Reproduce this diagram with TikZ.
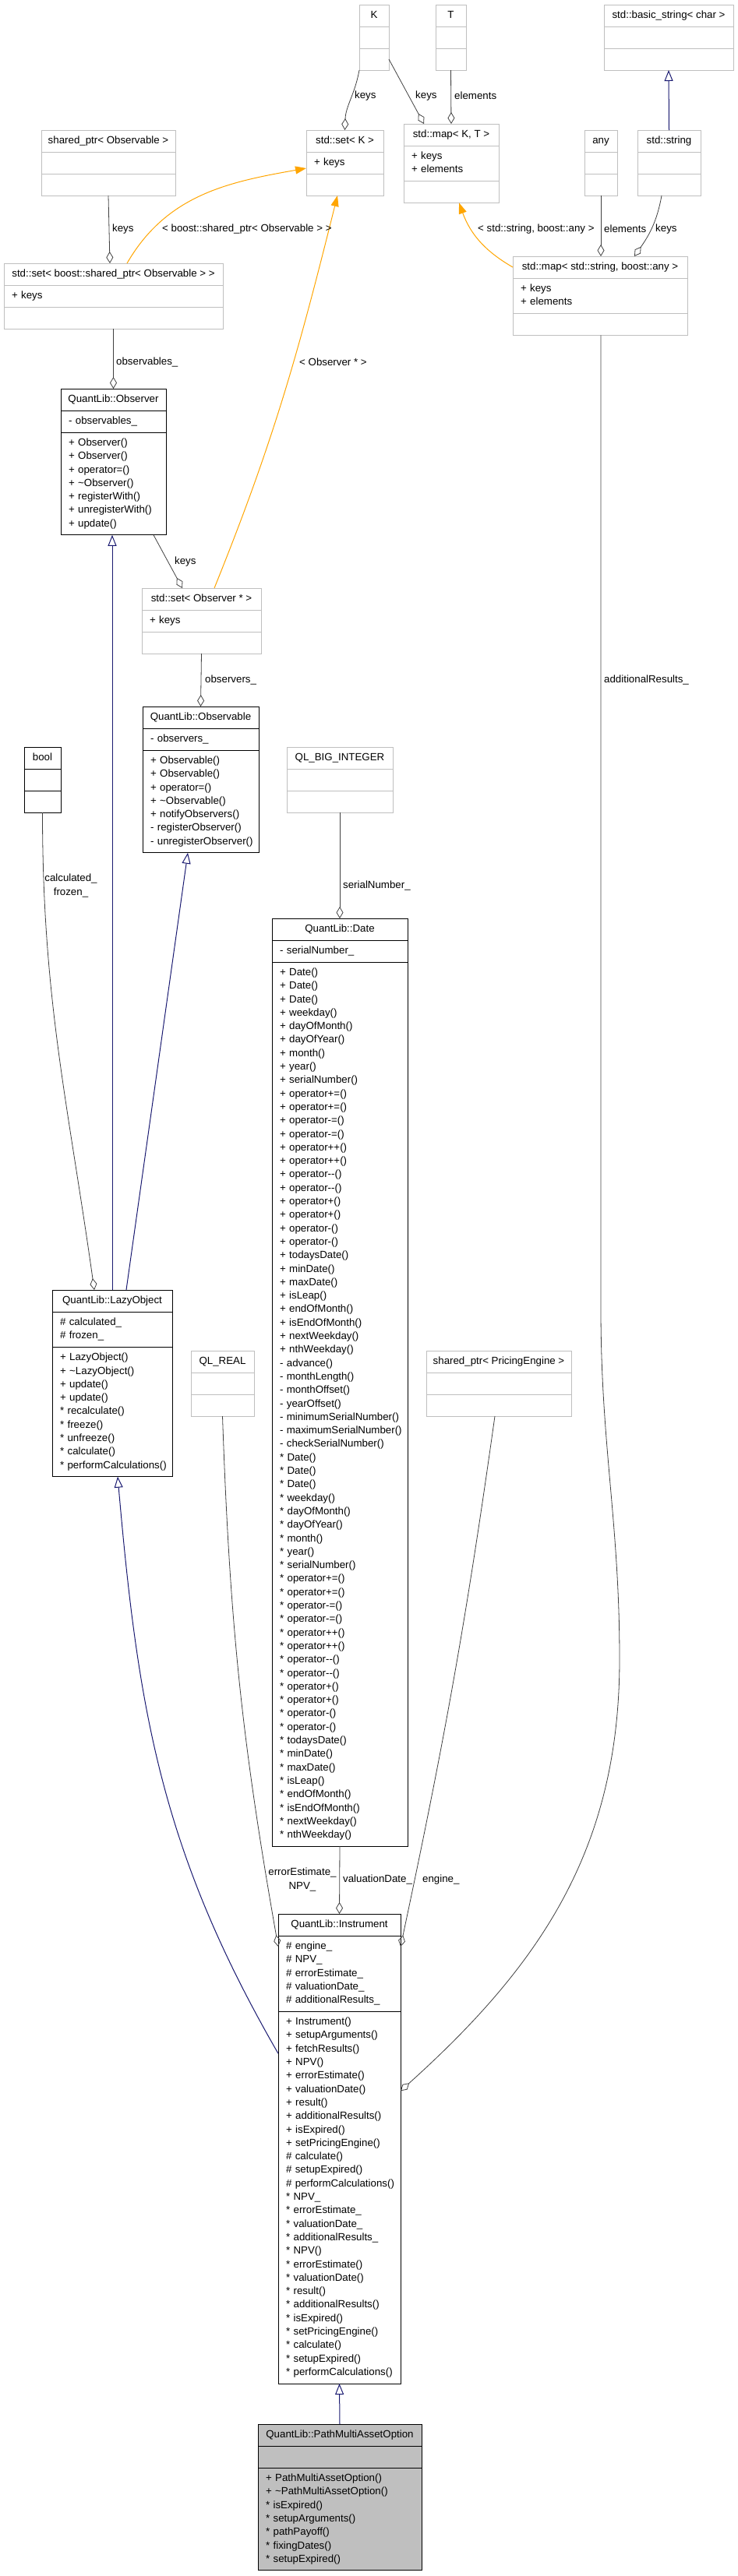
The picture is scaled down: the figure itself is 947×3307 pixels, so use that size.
\documentclass[tikz,border=0pt]{standalone}
\usepackage{fontspec}
\setmainfont{Liberation Sans}
\usetikzlibrary{positioning,arrows.meta}

\definecolor{extgray}{HTML}{BFBFBF}
\definecolor{edgegray}{HTML}{404040}
\definecolor{inhblue}{HTML}{191970}
\definecolor{tmplorange}{HTML}{FFA500}

\newcommand{\umlfont}{\fontsize{13.3}{17.3}\selectfont}

\tikzset{
  box/.style={rectangle, draw, fill=white, line width=1pt, outer sep=0pt,
    inner xsep=10pt, inner ysep=5.35pt, anchor=north west, align=left, font=\umlfont,
    execute at begin node={\hyphenpenalty=10000\exhyphenpenalty=10000\noindent\strut},
    execute at end node=\strut},
  ext/.style={box, draw=extgray},
  doc/.style={box, draw=black},
  head/.style={inner xsep=4pt},
  agg/.style={draw=edgegray, line width=0.8pt, -{Diamond[open, length=15pt, width=9pt]}},
  inh/.style={draw=inhblue, line width=1pt, -{Triangle[open, length=14pt, width=11pt]}},
  tmpl/.style={draw=tmplorange, line width=1pt, -{Triangle[length=14pt, width=10pt]}},
  lbl/.style={inner sep=0pt, anchor=west, font=\umlfont}
}

\begin{document}
\begin{tikzpicture}[x=1pt,y=1pt]
\useasboundingbox (0,0) rectangle (947,-3307);

% template parameters and std types
\node[ext, head, minimum width=38pt] (kk) at (461,-6) {K};
\node[ext, minimum width=38pt, below=0pt of kk] (kk-a) {};
\node[ext, minimum width=38pt, below=0pt of kk-a] (kk-m) {};

\node[ext, head, minimum width=39pt] (tt) at (559,-6) {T};
\node[ext, minimum width=39pt, below=0pt of tt] (tt-a) {};
\node[ext, minimum width=39pt, below=0pt of tt-a] (tt-m) {};

\node[ext, head, minimum width=166pt] (bstr) at (775,-6) {std::basic\_string< char >};
\node[ext, minimum width=166pt, below=0pt of bstr] (bstr-a) {};
\node[ext, minimum width=166pt, below=0pt of bstr-a] (bstr-m) {};

\node[ext, head, minimum width=172pt] (shobs) at (53,-167) {shared\_ptr< Observable >};
\node[ext, minimum width=172pt, below=0pt of shobs] (shobs-a) {};
\node[ext, minimum width=172pt, below=0pt of shobs-a] (shobs-m) {};

\node[ext, head, minimum width=99pt] (setk) at (393,-167) {std::set< K >};
\node[ext, text width=79pt, below=0pt of setk] (setk-a) {+~keys};
\node[ext, minimum width=99pt, below=0pt of setk-a] (setk-m) {};

\node[ext, head, minimum width=122pt] (mapkt) at (518,-159) {std::map< K, T >};
\node[ext, text width=102pt, below=0pt of mapkt] (mapkt-a) {+~keys\\+~elements};
\node[ext, minimum width=122pt, below=0pt of mapkt-a] (mapkt-m) {};

\node[ext, head, minimum width=42pt] (anyc) at (750,-167) {any};
\node[ext, minimum width=42pt, below=0pt of anyc] (anyc-a) {};
\node[ext, minimum width=42pt, below=0pt of anyc-a] (anyc-m) {};

\node[ext, head, minimum width=81pt] (str) at (818,-167) {std::string};
\node[ext, minimum width=81pt, below=0pt of str] (str-a) {};
\node[ext, minimum width=81pt, below=0pt of str-a] (str-m) {};

\node[ext, head, minimum width=281pt] (setsp) at (5,-338) {std::set< boost::shared\_ptr< Observable > >};
\node[ext, text width=261pt, below=0pt of setsp] (setsp-a) {+~keys};
\node[ext, minimum width=281pt, below=0pt of setsp-a] (setsp-m) {};

\node[ext, head, minimum width=224pt] (mapsa) at (658,-329) {std::map< std::string, boost::any >};
\node[ext, text width=204pt, below=0pt of mapsa] (mapsa-a) {+~keys\\+~elements};
\node[ext, minimum width=224pt, below=0pt of mapsa-a] (mapsa-m) {};

% observer pattern
\node[doc, head, minimum width=135pt] (obsr) at (78,-499) {QuantLib::Observer};
\node[doc, text width=115pt, below=0pt of obsr] (obsr-a) {-~observables\_};
\node[doc, text width=115pt, below=0pt of obsr-a] (obsr-m) {+~Observer()\\+~Observer()\\+~operator=()\\
+~\textasciitilde Observer()\\+~registerWith()\\+~unregisterWith()\\+~update()};

\node[ext, head, minimum width=153pt] (setobs) at (182,-755) {std::set< Observer * >};
\node[ext, text width=133pt, below=0pt of setobs] (setobs-a) {+~keys};
\node[ext, minimum width=153pt, below=0pt of setobs-a] (setobs-m) {};

\node[doc, head, minimum width=149pt] (obsl) at (183,-907) {QuantLib::Observable};
\node[doc, text width=129pt, below=0pt of obsl] (obsl-a) {-~observers\_};
\node[doc, text width=129pt, below=0pt of obsl-a] (obsl-m) {+~Observable()\\+~Observable()\\+~operator=()\\
+~\textasciitilde Observable()\\+~notifyObservers()\\-~registerObserver()\\-~unregisterObserver()};

\node[doc, head, minimum width=47pt] (boolc) at (31,-959) {bool};
\node[doc, minimum width=47pt, below=0pt of boolc] (boolc-a) {};
\node[doc, minimum width=47pt, below=0pt of boolc-a] (boolc-m) {};

\node[ext, head, minimum width=136pt] (bigint) at (368,-959) {QL\_BIG\_INTEGER};
\node[ext, minimum width=136pt, below=0pt of bigint] (bigint-a) {};
\node[ext, minimum width=136pt, below=0pt of bigint-a] (bigint-m) {};

% date
\node[doc, head, minimum width=174pt] (date) at (349,-1179) {QuantLib::Date};
\node[doc, text width=154pt, below=0pt of date] (date-a) {-~serialNumber\_};
\node[doc, text width=154pt, below=0pt of date-a] (date-m) {+~Date()\\+~Date()\\+~Date()\\+~weekday()\\
+~dayOfMonth()\\+~dayOfYear()\\+~month()\\+~year()\\+~serialNumber()\\
+~operator+=()\\+~operator+=()\\+~operator-=()\\+~operator-=()\\
+~operator++()\\+~operator++()\\+~operator-{}-()\\+~operator-{}-()\\
+~operator+()\\+~operator+()\\+~operator-()\\+~operator-()\\
+~todaysDate()\\+~minDate()\\+~maxDate()\\+~isLeap()\\+~endOfMonth()\\
+~isEndOfMonth()\\+~nextWeekday()\\+~nthWeekday()\\
-~advance()\\-~monthLength()\\-~monthOffset()\\-~yearOffset()\\
-~minimumSerialNumber()\\-~maximumSerialNumber()\\-~checkSerialNumber()\\
{*}~Date()\\{*}~Date()\\{*}~Date()\\{*}~weekday()\\
{*}~dayOfMonth()\\{*}~dayOfYear()\\{*}~month()\\{*}~year()\\{*}~serialNumber()\\
{*}~operator+=()\\{*}~operator+=()\\{*}~operator-=()\\{*}~operator-=()\\
{*}~operator++()\\{*}~operator++()\\{*}~operator-{}-()\\{*}~operator-{}-()\\
{*}~operator+()\\{*}~operator+()\\{*}~operator-()\\{*}~operator-()\\
{*}~todaysDate()\\{*}~minDate()\\{*}~maxDate()\\{*}~isLeap()\\{*}~endOfMonth()\\
{*}~isEndOfMonth()\\{*}~nextWeekday()\\{*}~nthWeekday()};

% lazy object and instrument
\node[doc, head, minimum width=154pt] (lazy) at (67,-1656) {QuantLib::LazyObject};
\node[doc, text width=134pt, below=0pt of lazy] (lazy-a) {\#~calculated\_\\\#~frozen\_};
\node[doc, text width=134pt, below=0pt of lazy-a] (lazy-m) {+~LazyObject()\\+~\textasciitilde LazyObject()\\
+~update()\\+~update()\\{*}~recalculate()\\{*}~freeze()\\{*}~unfreeze()\\{*}~calculate()\\
{*}~performCalculations()};

\node[ext, head, minimum width=81pt] (real) at (245,-1734) {QL\_REAL};
\node[ext, minimum width=81pt, below=0pt of real] (real-a) {};
\node[ext, minimum width=81pt, below=0pt of real-a] (real-m) {};

\node[ext, head, minimum width=186pt] (shpe) at (547,-1734) {shared\_ptr< PricingEngine >};
\node[ext, minimum width=186pt, below=0pt of shpe] (shpe-a) {};
\node[ext, minimum width=186pt, below=0pt of shpe-a] (shpe-m) {};

\node[doc, head, minimum width=157pt] (instr) at (357,-2457) {QuantLib::Instrument};
\node[doc, text width=137pt, below=0pt of instr] (instr-a) {\#~engine\_\\\#~NPV\_\\\#~errorEstimate\_\\
\#~valuationDate\_\\\#~additionalResults\_};
\node[doc, text width=137pt, below=0pt of instr-a] (instr-m) {+~Instrument()\\+~setupArguments()\\
+~fetchResults()\\+~NPV()\\+~errorEstimate()\\+~valuationDate()\\+~result()\\
+~additionalResults()\\+~isExpired()\\+~setPricingEngine()\\
\#~calculate()\\\#~setupExpired()\\\#~performCalculations()\\
{*}~NPV\_\\{*}~errorEstimate\_\\{*}~valuationDate\_\\{*}~additionalResults\_\\
{*}~NPV()\\{*}~errorEstimate()\\{*}~valuationDate()\\{*}~result()\\{*}~additionalResults()\\
{*}~isExpired()\\{*}~setPricingEngine()\\{*}~calculate()\\{*}~setupExpired()\\
{*}~performCalculations()};

\node[doc, head, fill=extgray, minimum width=210pt] (pmao) at (331,-3112) {QuantLib::PathMultiAssetOption};
\node[doc, fill=extgray, minimum width=210pt, below=0pt of pmao] (pmao-a) {};
\node[doc, fill=extgray, text width=190pt, below=0pt of pmao-a] (pmao-m) {+~PathMultiAssetOption()\\
+~\textasciitilde PathMultiAssetOption()\\{*}~isExpired()\\{*}~setupArguments()\\{*}~pathPayoff()\\
{*}~fixingDates()\\{*}~setupExpired()};

\coordinate (arbend) at (795,-2130);

% inheritance
\draw[inh] (str.north) -- (bstr-m.south);
\draw[inh] (lazy.north) -- (lazy.north |- obsr-m.south);
\draw[inh] ([xshift=95pt]lazy.north west) -- ([xshift=58pt]obsl-m.south west);
\draw[inh] ([yshift=-54pt]instr-m.north west) to[out=120, in=-85] ([xshift=84pt]lazy-m.south west);
\draw[inh] (pmao.north) -- (instr-m.south);

% template instances
\draw[tmpl] ([xshift=158pt]setsp.north west) to[out=60, in=190] ([yshift=-7pt]setk-a.west);
\draw[tmpl] ([xshift=93pt]setobs.north west) to[out=68, in=-104] ([xshift=40pt]setk-m.south west);
\draw[tmpl] (mapsa.west) to[out=150, in=-70] ([xshift=71pt]mapkt-m.south west);

% members
\draw[agg] (kk-m.south west) to[out=-100, in=88] (setk.north);
\draw[agg] (kk-m.east) -- ([xshift=26pt]mapkt.north west);
\draw[agg] (tt-m.south) -- (mapkt.north);
\draw[agg] (shobs-m.south) -- ([xshift=136pt]setsp.north west);
\draw[agg] (anyc-m.south) -- (anyc-m.south |- mapsa.north);
\draw[agg] ([xshift=31pt]str-m.south west) to[out=-100, in=55] ([xshift=156pt]mapsa.north west);
\draw[agg] (setsp-m.south) -- (obsr.north);
\draw[agg] ([xshift=119pt]obsr-m.south west) -- ([xshift=52pt]setobs.north west);
\draw[agg] (setobs-m.south) -- (obsl.north);
\draw[agg] ([xshift=113pt]mapsa-m.south west) -- ++(0,-1250) to[out=-90, in=90] (arbend)
  to[out=-90, in=42] ([yshift=-102pt]instr-m.north east);
\draw[agg] (boolc-m.south) to[out=-90, in=98] ([xshift=54pt]lazy.north west);
\draw[agg] (bigint-m.south) -- (date.north);
\draw[agg] (real-m.south) to[out=-88, in=100] ([yshift=-14pt]instr-a.north west);
\draw[agg] (date-m.south) -- (instr.north);
\draw[agg] ([xshift=88pt]shpe-m.south west) to[out=-98, in=78] ([yshift=-14pt]instr-a.north east);

% edge labels
\node[lbl] (l-kset) at (455,-123) {keys};
\node[lbl] (l-kmap) at (533,-123) {keys};
\node[lbl] (l-tmap) at (583,-123) {elements};
\node[lbl] (l-shobs) at (144,-294) {keys};
\node[lbl] (l-setsp) at (208,-294) {< boost::shared\_ptr< Observable > >};
\node[lbl] (l-mapsa) at (613,-294) {< std::string, boost::any >};
\node[lbl] (l-any) at (775,-294) {elements};
\node[lbl] (l-str) at (841,-294) {keys};
\node[lbl] (l-obsv) at (149,-465) {observables\_};
\node[lbl] (l-setobs) at (384,-465) {< Observer * >};
\node[lbl] (l-obsr) at (224,-721) {keys};
\node[lbl] (l-obsl) at (263,-873) {observers\_};
\node[lbl] (l-addres) at (775,-873) {additionalResults\_};
\node[lbl, anchor=center, align=center] (l-bool) at (91,-1137) {calculated\_\\frozen\_};
\node[lbl] (l-serial) at (440,-1137) {serialNumber\_};
\node[lbl, anchor=center, align=center] (l-real) at (388,-2413) {errorEstimate\_\\NPV\_};
\node[lbl] (l-vdate) at (440,-2413) {valuationDate\_};
\node[lbl] (l-engine) at (542,-2413) {engine\_};
\end{tikzpicture}
\end{document}
